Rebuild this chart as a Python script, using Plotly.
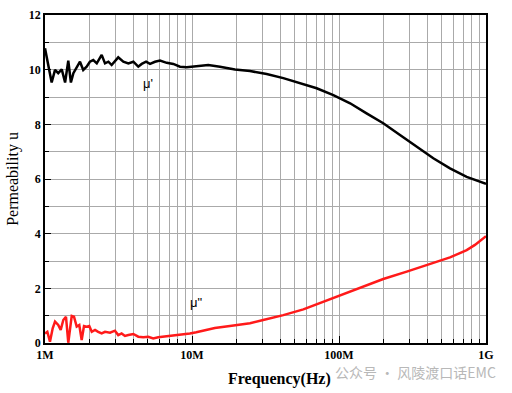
import plotly.graph_objects as go

# mu' (real permeability), frequency in MHz
mu1_freq_mhz = [1.00, 1.037, 1.11, 1.17, 1.23, 1.30, 1.37, 1.44, 1.50, 1.56, 1.64, 1.73,
                1.82, 1.92, 2.02, 2.13, 2.25, 2.43, 2.56, 2.70, 2.84, 2.99, 3.15, 3.41,
                3.69, 3.99, 4.31, 4.55, 4.87, 5.18, 5.60, 6.06, 6.73, 7.46, 8.29, 9.20,
                10.2, 11.2, 12.9, 15.5, 19.6, 24.8, 32.2, 41.8, 54.3, 70.5, 91.5, 119,
                154, 200, 260, 338, 438, 569, 739, 1000]
mu1_values = [10.78, 10.35, 9.53, 9.99, 9.87, 10.01, 9.53, 10.33, 9.53, 9.87, 10.05, 10.29,
              9.99, 10.11, 10.29, 10.35, 10.23, 10.54, 10.23, 10.29, 10.17, 10.33, 10.45, 10.29,
              10.23, 10.29, 10.11, 10.21, 10.29, 10.21, 10.29, 10.33, 10.25, 10.21, 10.11, 10.09,
              10.11, 10.13, 10.17, 10.11, 10.01, 9.95, 9.84, 9.69, 9.50, 9.32, 9.07, 8.77,
              8.40, 8.04, 7.61, 7.18, 6.76, 6.39, 6.08, 5.82]

# mu'' (imaginary permeability), frequency in MHz
mu2_freq_mhz = [1.00, 1.037, 1.081, 1.128, 1.17, 1.23, 1.279, 1.332, 1.389, 1.44, 1.52, 1.575,
                1.643, 1.711, 1.776, 1.842, 1.92, 2.00, 2.08, 2.19, 2.30, 2.43, 2.56, 2.77,
                2.99, 3.15, 3.32, 3.50, 3.69, 3.99, 4.31, 4.66, 5.04, 5.45, 5.89, 6.37,
                7.07, 7.85, 8.70, 9.67, 10.7, 14.3, 18.1, 24.8, 30.5, 41.8, 57.2, 78.2,
                101.6, 139, 200, 289, 416, 569, 739, 841, 1000]
mu2_values = [0.35, 0.41, 0.05, 0.54, 0.78, 0.66, 0.48, 0.84, 0.96, 0.01, 0.99, 0.96,
              0.60, 0.66, 0.11, 0.62, 0.60, 0.62, 0.41, 0.48, 0.41, 0.35, 0.41, 0.38,
              0.45, 0.29, 0.35, 0.26, 0.29, 0.33, 0.23, 0.21, 0.23, 0.17, 0.21, 0.23,
              0.26, 0.28, 0.32, 0.35, 0.39, 0.55, 0.62, 0.72, 0.84, 1.02, 1.23, 1.51,
              1.76, 2.04, 2.34, 2.61, 2.89, 3.13, 3.40, 3.59, 3.91]

x_tick_vals = [1e6, 1e7, 1e8, 1e9]
x_tick_text = ["1M", "10M", "100M", "1G"]
y_tick_vals = [0, 2, 4, 6, 8, 10, 12]

mu1_freq = [f * 1e6 for f in mu1_freq_mhz]
mu2_freq = [f * 1e6 for f in mu2_freq_mhz]

x_minor = [m * 10 ** d for d in range(6, 9) for m in range(2, 10)]

fig = go.Figure()
fig.add_trace(go.Scatter(x=mu1_freq, y=mu1_values, mode="lines",
                         line=dict(color="black", width=2.5), showlegend=False))
fig.add_trace(go.Scatter(x=mu2_freq, y=mu2_values, mode="lines",
                         line=dict(color="#ff1a1a", width=2.5), showlegend=False))

serif = "Liberation Serif"
grid = "#aaaaaa"

L, R, T, B = 45, 26, 15, 50
pa_w = 512 - L - R
pa_h = 393 - T - B


def px(xp):
    return (xp - L) / pa_w


def py(yp):
    return (393 - B - yp) / pa_h


fig.update_layout(
    width=512, height=393,
    margin=dict(l=L, r=R, t=T, b=B),
    plot_bgcolor="white", paper_bgcolor="white",
    xaxis=dict(
        type="log", range=[6, 9], automargin=False,
        tickvals=x_tick_vals, ticktext=x_tick_text,
        ticks="inside", ticklen=7, tickwidth=1.2, tickcolor="black",
        showgrid=True, gridcolor=grid, gridwidth=1,
        showline=True, linecolor="black", linewidth=1.5, mirror=True,
        tickfont=dict(family=serif, size=12, color="black", weight="bold"),
        minor=dict(tickvals=x_minor, ticks="inside", ticklen=4, tickcolor="black",
                   showgrid=True, gridcolor=grid, gridwidth=1),
        zeroline=False,
    ),
    yaxis=dict(
        range=[0, 12], tickvals=y_tick_vals, automargin=False,
        ticks="inside", ticklen=6, tickwidth=1.2, tickcolor="black",
        showgrid=True, gridcolor=grid, gridwidth=1,
        showline=True, linecolor="black", linewidth=1.5, mirror=True,
        tickfont=dict(family=serif, size=12, color="black", weight="bold"),
        minor=dict(dtick=1, ticks="inside", ticklen=4, tickcolor="black",
                   showgrid=True, gridcolor=grid, gridwidth=1),
        title=dict(text="Permeability u", standoff=6,
                   font=dict(family=serif, size=16, color="black")),
        zeroline=False,
    ),
    annotations=[
        dict(x=6.70, y=9.5, xref="x", yref="y", text="μ'", showarrow=False,
             font=dict(family="Liberation Sans", size=13, color="black")),
        dict(x=7.03, y=1.5, xref="x", yref="y", text='μ"', showarrow=False,
             font=dict(family="Liberation Sans", size=13, color="black")),
        dict(x=px(279), y=py(379), xref="paper", yref="paper",
             xanchor="center", yanchor="middle", text="Frequency(Hz)", showarrow=False,
             font=dict(family=serif, size=16, color="black", weight="bold")),
        dict(x=px(498), y=py(372), xref="paper", yref="paper",
             xanchor="right", yanchor="middle",
             text="公众号 · 风陵渡口话EMC", showarrow=False,
             font=dict(family="Noto Sans CJK SC", size=14, color="#b8b8b8")),
    ],
)

fig.write_html("out.html", config={"displayModeBar": False},
               post_script="document.body.style.margin='0';")
